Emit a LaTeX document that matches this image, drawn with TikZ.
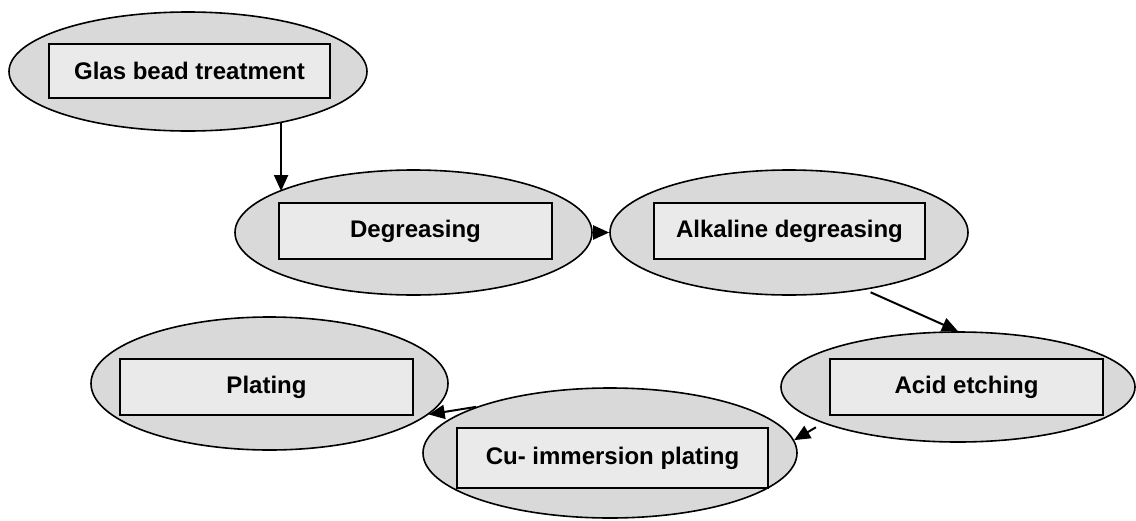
\documentclass[tikz,border=0pt]{standalone}
\usepackage{fontspec}
\setmainfont{Liberation Sans}
\usepackage{xcolor}
\definecolor{ovalgray}{HTML}{D9D9D9}
\definecolor{boxgray}{HTML}{EAEAEA}
\usepackage{tikz}
\usetikzlibrary{arrows.meta,shapes.geometric}

\begin{document}
\begin{tikzpicture}[x=0.5pt, y=-0.5pt,
                   oval/.style={ellipse, draw, fill=ovalgray, line width=0.8pt, inner sep=0pt},
                   stepbox/.style={draw, fill=boxgray, line width=1pt, inner sep=0pt,
                                   font=\fontsize{12}{14}\selectfont\bfseries, align=center},
                   arr/.style={-{Triangle[length=8pt,width=7pt]}, line width=1pt}]
    \useasboundingbox (0,0) rectangle (1136,520);
    % process ovals
    \node[oval, minimum width=179pt,   minimum height=59.5pt] (e1) at (188,71.5)   {};
    \node[oval, minimum width=178.5pt, minimum height=62.5pt] (e2) at (413.5,232.5) {};
    \node[oval, minimum width=179pt,   minimum height=62.5pt] (e3) at (789,232.5)   {};
    \node[oval, minimum width=177pt,   minimum height=55pt]   (e4) at (958,387)     {};
    \node[oval, minimum width=187pt,   minimum height=65pt]   (e5) at (610,453)     {};
    \node[oval, minimum width=178.5pt, minimum height=66.5pt] (e6) at (269.5,383.5) {};
    % step labels
    \node[stepbox, minimum width=140.5pt, minimum height=27pt] (b1) at (189.5,71)  {Glas bead treatment};
    \node[stepbox, minimum width=136.5pt, minimum height=28pt] (b2) at (415.5,231) {Degreasing};
    \node[stepbox, minimum width=135.5pt, minimum height=28pt] (b3) at (789.5,231) {Alkaline degreasing};
    \node[stepbox, minimum width=136.5pt, minimum height=28pt] (b4) at (966.5,387) {Acid etching};
    \node[stepbox, minimum width=155.5pt, minimum height=30pt] (b5) at (612.5,458) {Cu- immersion plating};
    \node[stepbox, minimum width=146.5pt, minimum height=28pt] (b6) at (266.5,387) {Plating};
    % flow
    \draw[arr] (e1.-29) -- (e1.-29 |- e2.163);
    \draw[arr] (e2.east) -- (e3.west);
    \draw[arr, shorten <=3pt] (e3.-37.6) -- (e4.north);
    \draw[arr, shorten <=4pt] (e4.195) -- (e5.4);
    \draw[arr] (e5.161) -- (e6.-11);
\end{tikzpicture}
\end{document}
